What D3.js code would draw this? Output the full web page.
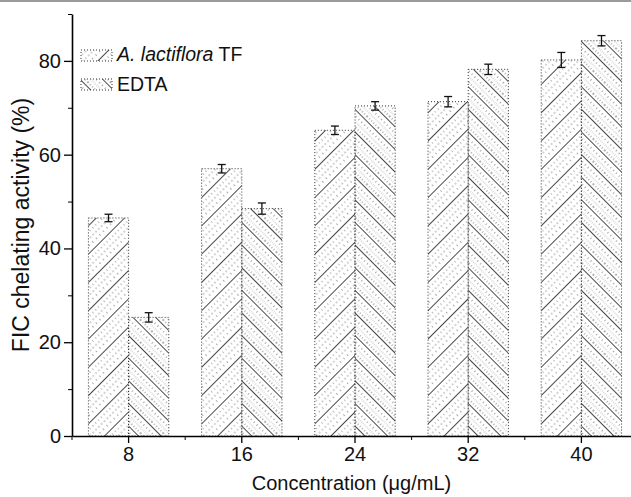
<!DOCTYPE html>
<html>
<head>
<meta charset="utf-8">
<script src="https://cdn.jsdelivr.net/npm/d3@7"></script>
<style>
  body { margin: 0; background: #fff; }
  text { font-family: "Liberation Sans", Arial, sans-serif; fill: #111; }
</style>
</head>
<body>
<script>

const svgWidth = 631;
const svgHeight = 497;

// Data
const concentrations = ["8", "16", "24", "32", "40"];
const seriesNames = ["A. lactiflora TF", "EDTA"];
const tfValues = [46.5, 57.0, 65.2, 71.3, 80.2];
const tfErrors = [0.8, 0.9, 0.9, 1.1, 1.6];
const edtaValues = [25.3, 48.5, 70.4, 78.2, 84.3];
const edtaErrors = [1.0, 1.2, 0.9, 1.1, 1.1];
const yMajorTicks = [0, 20, 40, 60, 80];
const yMinorTicks = [10, 30, 50, 70, 90];

// chart area
const plot = { left: 72, right: 638, top: 14, bottom: 436 };

const svg = d3.select("body")
    .append("svg")
    .attr("width", svgWidth)
    .attr("height", svgHeight);

// thin grey rule along the top edge of the figure
svg.append("rect")
    .attr("x", 0).attr("y", 0)
    .attr("width", svgWidth).attr("height", 2)
    .attr("fill", "#9a9a9a");

// hatch patterns
const defs = svg.append("defs");

function hatch(id, angle, size, lines) {
    const p = defs.append("pattern")
        .attr("id", id)
        .attr("patternUnits", "userSpaceOnUse")
        .attr("width", size)
        .attr("height", size)
        .attr("patternTransform", `translate(${plot.left},${plot.bottom}) rotate(${angle})`);
    lines.forEach(l => {
        p.append("line")
            .attr("x1", l.x).attr("x2", l.x)
            .attr("y1", 0).attr("y2", size)
            .attr("stroke", l.color)
            .attr("stroke-width", l.w)
            .attr("stroke-dasharray", l.dash);
    });
}

hatch("hatchTF", 45, 20, [
    { x: 0.5, color: "#333", w: 0.9, dash: null },
    { x: 5, color: "#777", w: 1, dash: "1,3" },
    { x: 10, color: "#aaa", w: 1, dash: "2,2" },
    { x: 15, color: "#555", w: 1, dash: "1,4" }
]);
hatch("hatchEDTA", -45, 16, [
    { x: 0.5, color: "#333", w: 0.9, dash: null },
    { x: 4, color: "#666", w: 1, dash: "1,2" },
    { x: 8, color: "#bbb", w: 1, dash: "1,1" },
    { x: 12, color: "#555", w: 1, dash: "1,3" }
]);

const fills = ["url(#hatchTF)", "url(#hatchEDTA)"];

// scales
const xScale = d3.scaleBand()
    .domain(concentrations)
    .range([plot.left, plot.right])
    .paddingInner(0.29)
    .paddingOuter(0.145);

const xSub = d3.scaleBand()
    .domain(seriesNames)
    .range([0, xScale.bandwidth()]);

const yScale = d3.scaleLinear()
    .domain([0, 90])
    .range([plot.bottom, plot.top]);

const rows = concentrations.map((c, i) => ({
    c: c,
    vals: [
        { s: seriesNames[0], v: tfValues[i], e: tfErrors[i], k: 0 },
        { s: seriesNames[1], v: edtaValues[i], e: edtaErrors[i], k: 1 }
    ]
}));

// bars
const groups = svg.append("g").selectAll("g")
    .data(rows)
    .enter()
    .append("g")
    .attr("transform", d => `translate(${xScale(d.c)},0)`);

groups.selectAll("rect")
    .data(d => d.vals)
    .enter()
    .append("rect")
    .attr("x", d => xSub(d.s))
    .attr("y", d => yScale(d.v))
    .attr("width", xSub.bandwidth())
    .attr("height", d => plot.bottom - yScale(d.v))
    .attr("fill", d => fills[d.k])
    .attr("stroke", "#333")
    .attr("stroke-width", 1)
    .attr("stroke-dasharray", "1,2");

// error bars
const errs = groups.selectAll("g.err")
    .data(d => d.vals)
    .enter()
    .append("g")
    .attr("class", "err")
    .attr("transform", d => `translate(${xSub(d.s) + xSub.bandwidth() / 2},0)`)
    .attr("stroke", "#111")
    .attr("stroke-width", 1.3);

errs.append("line")
    .attr("y1", d => yScale(d.v - d.e))
    .attr("y2", d => yScale(d.v + d.e));
errs.append("line")
    .attr("x1", -4).attr("x2", 4)
    .attr("y1", d => yScale(d.v + d.e))
    .attr("y2", d => yScale(d.v + d.e));
errs.append("line")
    .attr("x1", -4).attr("x2", 4)
    .attr("y1", d => yScale(d.v - d.e))
    .attr("y2", d => yScale(d.v - d.e));

// x axis
const xAxisG = svg.append("g")
    .attr("transform", `translate(0,${plot.bottom})`)
    .call(d3.axisBottom(xScale).tickSize(7).tickSizeOuter(0).tickPadding(4));

const xMinor = d3.range(concentrations.length + 1)
    .map(i => plot.left + i * xScale.step());
xAxisG.selectAll("line.minor")
    .data(xMinor)
    .enter()
    .append("line")
    .attr("class", "minor")
    .attr("x1", d => d).attr("x2", d => d)
    .attr("y1", 0).attr("y2", 4)
    .attr("stroke", "#000");

// y axis
const yAxisG = svg.append("g")
    .attr("transform", `translate(${plot.left},0)`)
    .call(d3.axisLeft(yScale).tickValues(yMajorTicks).tickSize(8).tickSizeOuter(0).tickPadding(3));

svg.append("g")
    .attr("transform", `translate(${plot.left},0)`)
    .call(d3.axisLeft(yScale).tickValues(yMinorTicks).tickSize(4).tickSizeOuter(0).tickFormat(""))
    .select(".domain").remove();

[xAxisG, yAxisG].forEach(g => {
    g.select(".domain").attr("stroke", "#000").attr("stroke-width", 1.6);
    g.selectAll(".tick line").attr("stroke", "#000").attr("stroke-width", 1.3);
    g.selectAll(".tick text")
        .attr("font-size", 20)
        .attr("font-family", "Liberation Sans, Arial, sans-serif")
        .attr("fill", "#111");
});

// axis titles
svg.append("text")
    .attr("x", (plot.left + 631) / 2)
    .attr("y", 490)
    .attr("text-anchor", "middle")
    .attr("font-size", 20)
    .text("Concentration (\u03bcg/mL)");

svg.append("text")
    .attr("transform", `translate(29,225) rotate(-90)`)
    .attr("text-anchor", "middle")
    .attr("font-size", 23)
    .text("FIC chelating activity (%)");

// legend
const legend = svg.append("g").attr("transform", "translate(81,50)");
const legendRows = legend.selectAll("g")
    .data(seriesNames)
    .enter()
    .append("g")
    .attr("transform", (d, i) => `translate(0,${i * 29})`);

legendRows.append("rect")
    .attr("width", 31)
    .attr("height", 11)
    .attr("fill", (d, i) => fills[i])
    .attr("stroke", "#333")
    .attr("stroke-dasharray", "1,2");

const tfLabel = d3.select(legendRows.nodes()[0]).append("text")
    .attr("x", 36).attr("y", 11)
    .attr("font-size", 19.5);
tfLabel.append("tspan").attr("font-style", "italic").text("A. lactiflora");
tfLabel.append("tspan").text(" TF");

d3.select(legendRows.nodes()[1]).append("text")
    .attr("x", 36).attr("y", 12)
    .attr("font-size", 19.5)
    .text("EDTA");

</script>
</body>
</html>
